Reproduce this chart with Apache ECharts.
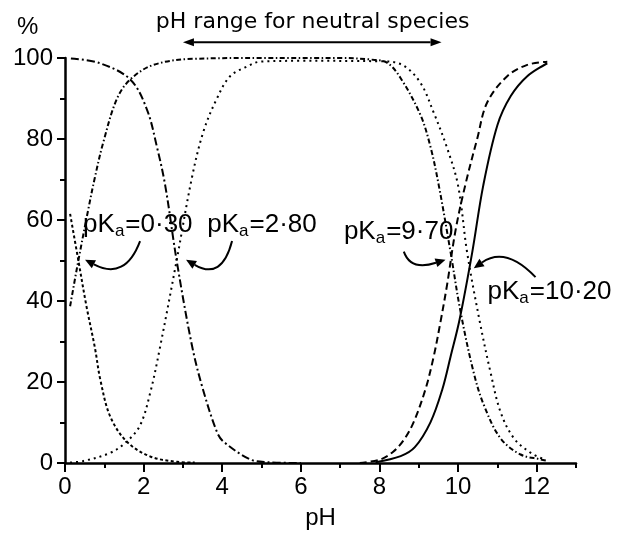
<!DOCTYPE html>
<html><head><meta charset="utf-8">
<script src="https://cdn.jsdelivr.net/npm/echarts@6/dist/echarts.min.js"></script>
<style>html,body{margin:0;padding:0;background:#fff}#c{width:627px;height:535px}</style>
</head><body><div id="c"></div>
<script>
// ---- data (pH, % of species) ----
// compound A (pKa 0.30 and 9.70)
const phCationA  = [0.13, 0.34, 0.55, 0.76, 0.90, 1.15, 1.57, 2.17, 2.85, 3.30];
const pctCationA = [61.5, 50.0, 38.5, 28.5, 20.5, 11.5, 5.3, 1.6, 0.3, 0.1];
const phNeutralA  = [0.13, 0.34, 0.59, 0.76, 0.98, 1.32, 1.66, 2.25, 3.27, 5.0, 7.0, 7.8, 8.2, 8.54, 9.04, 9.30, 9.51, 9.81, 10.06, 10.40, 10.66, 11.08, 11.59, 12.10, 12.25];
const pctNeutralA = [38.7, 50.0, 62.5, 70.5, 79.4, 89.9, 94.7, 98.3, 99.8, 100, 100, 99.6, 98.8, 95.0, 86.0, 78.0, 68.5, 52.0, 37.5, 22.2, 14.2, 6.1, 2.1, 0.9, 0.6];
const phAnionA  = [7.50, 8.03, 8.35, 8.62, 8.87, 9.17, 9.38, 9.55, 9.72, 9.94, 10.19, 10.49, 10.74, 11.25, 11.76, 12.27];
const pctAnionA = [0.0, 0.9, 2.8, 5.7, 10.1, 18.2, 26.3, 34.7, 44.0, 57.7, 68.9, 80.2, 89.0, 95.5, 98.3, 99.1];
// compound B (pKa 2.80 and 10.20)
const phCationB  = [0.15, 0.89, 1.66, 2.08, 2.34, 2.55, 2.84, 3.23, 3.50, 3.86, 4.03, 4.71, 5.14, 6.0];
const pctCationB = [99.9, 98.7, 94.7, 87.4, 78.0, 68.5, 50.0, 29.0, 18.5, 7.8, 5.3, 0.9, 0.2, 0.0];
const phNeutralB  = [0.13, 0.47, 1.15, 1.57, 1.91, 2.17, 2.42, 2.84, 3.23, 3.52, 3.86, 4.20, 4.63, 4.97, 6.0, 8.0, 8.58, 9.04, 9.38, 9.72, 10.00, 10.23, 10.55, 10.83, 11.08, 11.42, 11.85, 12.19];
const pctNeutralB = [0.1, 0.5, 2.5, 5.3, 9.3, 17.4, 28.7, 50.0, 70.5, 81.8, 89.9, 95.5, 97.9, 99.1, 99.3, 99.2, 98.3, 93.9, 86.5, 77.8, 68.5, 52.0, 35.0, 22.2, 12.6, 6.1, 2.5, 0.9];
const phAnionB  = [7.90, 8.54, 8.90, 9.30, 9.60, 9.81, 10.04, 10.36, 10.64, 11.00, 11.34, 11.76, 12.27];
const pctAnionB = [0.2, 1.7, 3.9, 10.1, 18.2, 26.3, 35.5, 52.0, 68.5, 83.4, 90.6, 95.5, 98.7];

const xLabelValues = [0, 2, 4, 6, 8, 10, 12];
const yLabelValues = [0, 20, 40, 60, 80, 100];
const pKaLabels = ['0·30', '2·80', '9·70', '10·20'];
const rangeTitle = 'pH range for neutral species';

// ---- chart ----
const FONT = 'Liberation Sans, Arial, Helvetica, sans-serif';
const pairs = (xs, ys) => xs.map((x, i) => [x, ys[i]]);
function line(name, xs, ys, type) {
  return {
    name, type: 'line', data: pairs(xs, ys), showSymbol: false, symbol: 'none',
    smooth: 0.35, clip: false, silent: true,
    lineStyle: { color: '#000', width: 2, type: type }
  };
}

const chart = echarts.init(document.getElementById('c'));
const option = {
  animation: false,
  backgroundColor: '#fff',
  grid: { left: 65, top: 58, right: 51, bottom: 63 },
  xAxis: [{
    type: 'value', min: 0, max: 13, interval: 1,
    axisLine: { show: true, onZero: false, lineStyle: { color: '#000', width: 2.5 } },
    axisTick: { show: true, length: 5, lineStyle: { color: '#000', width: 2 } },
    axisLabel: { show: false },
    splitLine: { show: false }
  }, {
    type: 'value', min: 0, max: 13, interval: 2, position: 'bottom',
    axisLine: { show: false, onZero: false },
    axisTick: { show: true, length: 9, customValues: xLabelValues, lineStyle: { color: '#000', width: 2 } },
    axisLabel: { show: true, customValues: xLabelValues, color: '#000', fontSize: 24, fontFamily: FONT, margin: 12,
      formatter: v => (xLabelValues.indexOf(v) >= 0 ? String(v) : '') },
    splitLine: { show: false },
    name: 'pH', nameLocation: 'middle', nameGap: 43,
    nameTextStyle: { color: '#000', fontSize: 24, fontFamily: FONT }
  }],
  yAxis: {
    type: 'value', min: 0, max: 100, interval: 20,
    axisLine: { show: true, onZero: false, lineStyle: { color: '#000', width: 2.5 } },
    axisTick: { show: true, length: 8, lineStyle: { color: '#000', width: 2 } },
    minorTick: { show: true, splitNumber: 2, length: 5, lineStyle: { color: '#000', width: 2 } },
    axisLabel: { color: '#000', fontSize: 24, fontFamily: FONT, margin: 12,
      formatter: v => (yLabelValues.indexOf(v) >= 0 ? String(v) : '') },
    splitLine: { show: false }
  },
  series: [
    line('cation A', phCationA, pctCationA, [3, 2.5]),
    line('neutral A', phNeutralA, pctNeutralA, [5, 2.5, 1.5, 2.5]),
    line('anion A', phAnionA, pctAnionA, [7, 4]),
    line('cation B', phCationB, pctCationB, [8, 3, 2, 3]),
    line('neutral B', phNeutralB, pctNeutralB, [2, 4]),
    line('anion B', phAnionB, pctAnionB, 'solid')
  ]
};
chart.setOption(option);

// ---- annotations (placed in data units, converted through the axes) ----
const px = p => chart.convertToPixel({ seriesIndex: 0 }, p);
const mctx = document.createElement('canvas').getContext('2d');
function tw(text, size) { mctx.font = size + 'px ' + FONT; return mctx.measureText(text).width; }
function arrowHead(tip, from, L, W) {
  const ang = Math.atan2(tip[1] - from[1], tip[0] - from[0]);
  const bx = tip[0] - L * Math.cos(ang), by = tip[1] - L * Math.sin(ang);
  return {
    base: [bx, by],
    el: { type: 'polygon', silent: true, shape: { points: [[tip[0], tip[1]],
      [bx - W * Math.sin(ang), by + W * Math.cos(ang)], [bx + W * Math.sin(ang), by - W * Math.cos(ang)]] },
      style: { fill: '#000', stroke: null } }
  };
}
function curvedArrow(s, c, e) {
  const S = px(s), C = px(c), E = px(e);
  const h = arrowHead(E, C, 10, 4.5);
  return [
    { type: 'bezierCurve', silent: true, shape: { x1: S[0], y1: S[1], cpx1: C[0], cpy1: C[1], x2: h.base[0], y2: h.base[1] },
      style: { stroke: '#000', lineWidth: 2, fill: 'none' } },
    h.el
  ];
}
function txt(text, x, y, size, align) {
  return { type: 'text', silent: true, x: x, y: y,
    style: { text: text, align: align || 'left', verticalAlign: 'middle', fill: '#000', font: size + 'px ' + FONT } };
}
function pkaText(label, pos, align) {
  const P = px(pos);
  const M = 26, S = 17;
  const rest = '=' + label;
  const w1 = tw('pK', M), w2 = tw('a', S) + 1, w3 = tw(rest, M);
  const x0 = align === 'right' ? P[0] - (w1 + w2 + w3) : P[0];
  return [
    txt('pK', x0, P[1], M),
    txt('a', x0 + w1, P[1] + 7, S),
    txt(rest, x0 + w1 + w2, P[1], M)
  ];
}
const els = [];
// double arrow for the neutral-species range
const A0 = px([3.0, 103.9]), A1 = px([9.58, 103.9]);
const hL = arrowHead(A0, A1, 11, 4), hR = arrowHead(A1, A0, 11, 4);
els.push({ type: 'line', silent: true, shape: { x1: hL.base[0], y1: A0[1], x2: hR.base[0], y2: A1[1] }, style: { stroke: '#000', lineWidth: 2 } });
els.push(hL.el, hR.el);
const T = px([6.3, 108.8]);
els.push({ type: 'text', silent: true, x: T[0], y: T[1], style: { text: rangeTitle, align: 'center', verticalAlign: 'middle', fill: '#000', font: '22px DejaVu Sans, ' + FONT } });
const Pc = px([-0.95, 107.5]);
els.push(txt('%', Pc[0], Pc[1], 24, 'center'));
// pKa labels
els.push(...pkaText(pKaLabels[0], [0.46, 58.9], 'left'));
els.push(...pkaText(pKaLabels[1], [3.62, 58.9], 'left'));
els.push(...pkaText(pKaLabels[2], [9.88, 57.2], 'right'));
els.push(...pkaText(pKaLabels[3], [10.75, 42.3], 'left'));
// curved pointer arrows
els.push(...curvedArrow([1.91, 54.8], [1.53, 45.0], [0.51, 50.2]));
els.push(...curvedArrow([4.25, 54.8], [3.99, 45.0], [3.08, 50.2]));
els.push(...curvedArrow([8.62, 52.2], [8.79, 47.4], [9.68, 50.2]));
els.push(...curvedArrow([11.97, 45.9], [11.21, 53.6], [10.40, 48.1]));
chart.setOption({ graphic: { elements: els } });
</script>
</body></html>
